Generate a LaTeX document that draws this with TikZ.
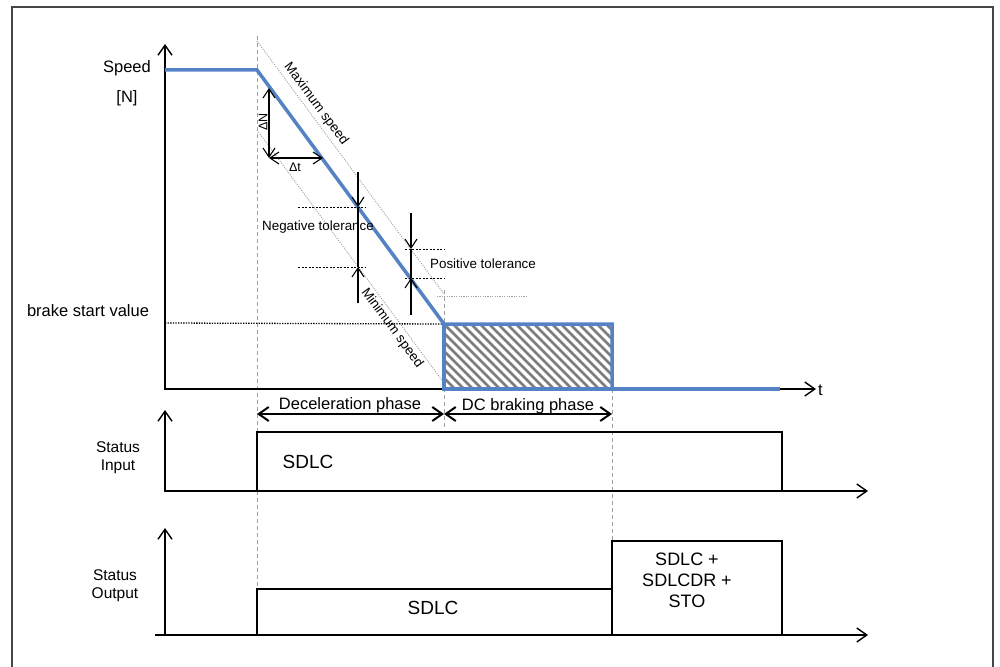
\documentclass[tikz,border=0pt]{standalone}
\usepackage{fontspec}
\setmainfont{Liberation Sans}
\usetikzlibrary{arrows.meta}
\definecolor{speedblue}{RGB}{84,130,196}
\definecolor{hatchgray}{RGB}{125,125,125}
\definecolor{guidegray}{RGB}{160,160,160}
\definecolor{framegray}{RGB}{70,70,70}
\begin{document}
\begin{tikzpicture}[x=1pt,y=-1pt,
  >={Straight Barb[length=10pt,width=14pt]},
  axisline/.style={line width=1.4pt},
  sigline/.style={line width=1.4pt},
  smallarr/.style={line width=1.1pt,-{Straight Barb[length=9pt,width=12pt]}},
  dimarr/.style={line width=1.1pt,{Straight Barb[length=9pt,width=12pt]}-{Straight Barb[length=9pt,width=12pt]}},
  phasearr/.style={line width=2pt,<->},
  guide/.style={guidegray,line width=0.9pt,dash pattern=on 4pt off 3pt},
  limitline/.style={guidegray,line width=0.8pt,dash pattern=on 1.2pt off 1.2pt},
  tolline/.style={black,line width=0.9pt,dash pattern=on 2pt off 1.5pt},
  brakeline/.style={black,line width=1.3pt,dash pattern=on 1.3pt off 1.3pt},
  speedline/.style={speedblue,line width=3.5pt,line join=miter},
  lbl/.style={inner sep=0pt,align=center},
  fA/.style={font=\fontsize{16.5}{19}\selectfont},
  fB/.style={font=\fontsize{15.5}{18}\selectfont},
  fC/.style={font=\fontsize{13.4}{16}\selectfont},
  fD/.style={font=\fontsize{19}{22}\selectfont},
  fE/.style={font=\fontsize{18}{21}\selectfont},
  fF/.style={font=\fontsize{12.5}{15}\selectfont}]
\useasboundingbox (0,0) rectangle (1000,666);

% outer frame
\draw[framegray,line width=1.5pt] (12,672) -- (12,7) -- (993,7) -- (993,672);

% ---------- coordinates ----------
\coordinate (sTop) at (165,44);
\coordinate (sO) at (165,389);
\coordinate (sEnd) at (816,389);
\coordinate (b0) at (165,70);
\coordinate (b1) at (257,70);
\coordinate (b2) at (444,324);
\coordinate (b3) at (612,324);
\coordinate (b4) at (612,389);
\coordinate (b5) at (444,389);
\coordinate (b6) at (780,389);

% hatched DC braking area
\begin{scope}
  \clip (444,324) rectangle (612,389);
  \foreach \i in {-9,...,20}
    \draw[hatchgray,line width=2.6pt] (444+\i*9,324) -- ++(65,65);
\end{scope}

% guides
\draw[guide] (257,36) -- (257,589);
\draw[guide] (444,290) -- (444,430);
\draw[guide] (612,389) -- (612,541);

% limit lines
\coordinate (mx0) at (257,41);
\coordinate (mx1) at (444,294);
\coordinate (mn0) at (257,130);
\coordinate (mn1) at (444,383);
\draw[limitline] (mx0) -- (mx1);
\draw[limitline] (mn0) -- (mn1);
\coordinate (ph0) at (437,296);
\coordinate (ph1) at (527,296);
\draw[limitline] (ph0) -- (ph1);

% brake start value line
\coordinate (bs0) at (165,323);
\draw[brakeline] (bs0) -- (b2);

% axes speed
\draw[axisline,<->] (sTop) -- (sO) -- (sEnd);

% speed profile
\draw[speedline] (b0) -- (b1) -- (b2) -- (b3) -- (b4);
\draw[speedline] (b2) -- (b5) -- (b6);

% delta N / delta t
\coordinate (dc) at (269,158);
\coordinate (dn) at (269,88);
\coordinate (dt) at (323,158);
\draw[dimarr] (dc) -- (dn);
\draw[dimarr] (dc) -- (dt);
\node[lbl,fF,rotate=90] (dN) at (263,122) {ΔN};
\node[lbl,fF] (dT) at (295,167) {Δt};

% negative tolerance
\coordinate (nt0) at (358,172);
\coordinate (nt1) at (358,207);
\coordinate (nt2) at (358,267);
\coordinate (nt3) at (358,303);
\draw[line width=1.1pt] (nt1) -- (nt2);
\draw[smallarr] (nt0) -- (nt1);
\draw[smallarr] (nt3) -- (nt2);
\coordinate (nd0) at (298,207); \coordinate (nd1) at (365,207);
\coordinate (nd2) at (298,267); \coordinate (nd3) at (365,267);
\draw[tolline] (nd0) -- (nd1);
\draw[tolline] (nd2) -- (nd3);

% positive tolerance
\coordinate (pt0) at (411,213);
\coordinate (pt1) at (411,249);
\coordinate (pt2) at (411,278);
\coordinate (pt3) at (411,315);
\draw[line width=1.1pt] (pt1) -- (pt2);
\draw[smallarr] (pt0) -- (pt1);
\draw[smallarr] (pt3) -- (pt2);
\coordinate (pd0) at (405,249); \coordinate (pd1) at (445,249);
\coordinate (pd2) at (405,278); \coordinate (pd3) at (445,278);
\draw[tolline] (pd0) -- (pd1);
\draw[tolline] (pd2) -- (pd3);

% labels speed diagram
\node[lbl,fA] (speedL) at (127,68) {Speed};
\node[lbl,fA] (unitL) at (127,98) {[N]};
\node[lbl,fA] (brakeL) at (88,311) {brake start value};
\node[lbl,fA,anchor=west] (tL) at (818,390) {t};
\node[lbl,fC,rotate=-53.5] (maxL) at (316,104) {Maximum speed};
\node[lbl,fC,rotate=-53.5] (minL) at (392,328) {Minimum speed};
\node[lbl,fC] (negL) at (318,227) {Negative tolerance};
\node[lbl,fC] (posL) at (483,264) {Positive tolerance};

% phases
\coordinate (ph_a) at (257,414);
\coordinate (ph_b) at (444,414);
\coordinate (ph_c) at (612,414);
\draw[phasearr] (ph_a) -- (ph_b);
\draw[phasearr] (ph_b) -- (ph_c);
\node[lbl,fA] (decL) at (350,405) {Deceleration phase};
\node[lbl,fA] (dcL) at (528,406) {DC braking phase};

% status input
\coordinate (iTop) at (165,410);
\coordinate (iO) at (165,491);
\coordinate (iEnd) at (868,491);
\draw[axisline,<->] (iTop) -- (iO) -- (iEnd);
\coordinate (i1) at (257,491);
\coordinate (i2) at (257,432);
\coordinate (i3) at (782,432);
\coordinate (i4) at (782,491);
\draw[sigline] (i1) -- (i2) -- (i3) -- (i4);
\node[lbl,fD] (sdlcIn) at (308,462) {SDLC};
\node[lbl,fB] (inL) at (118,458) {Status\\Input};

% status output
\coordinate (oTop) at (165,528);
\coordinate (oO) at (165,635);
\coordinate (oL) at (155,635);
\coordinate (oEnd) at (868,635);
\draw[axisline,->] (oO) -- (oTop);
\draw[axisline,->] (oL) -- (oEnd);
\coordinate (o1) at (257,635);
\coordinate (o2) at (257,589);
\coordinate (o3) at (612,589);
\coordinate (o4) at (612,635);
\coordinate (o5) at (612,541);
\coordinate (o6) at (782,541);
\coordinate (o7) at (782,635);
\draw[sigline] (o1) -- (o2) -- (o3);
\draw[sigline] (o4) -- (o5) -- (o6) -- (o7);
\node[lbl,fD] (sdlcOut) at (433,608) {SDLC};
\node[lbl,fE] (combo) at (687,580) {SDLC +\\SDLCDR +\\STO};
\node[lbl,fB] (outL) at (115,586) {Status\\Output};
\end{tikzpicture}
\end{document}
